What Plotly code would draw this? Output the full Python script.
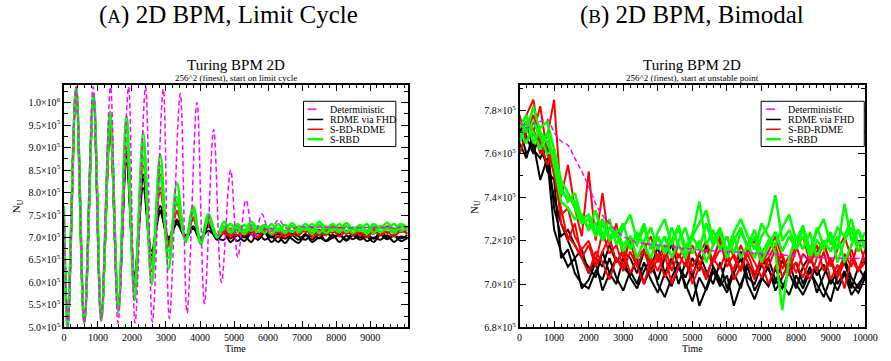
import plotly.graph_objects as go

W, H = 891, 361
SERIF = "Liberation Serif"

# ---------------- Panel A : limit cycle (values in units of 1e5) ----------------
A_T = [0, 110, 360, 600, 870, 1100, 1360, 1600, 1840, 2080, 2330, 2580, 2830, 3080, 3320, 3580, 3800, 4020, 4250, 4500,
       4700, 4900, 5100, 5300, 5500, 5700, 5900, 6100, 6300, 6500, 6700, 6900, 7100, 7300, 7500, 7700, 7900,
       8100, 8300, 8500, 8700, 8900, 9100, 9300, 9500, 9700, 9900, 10100]

A_BLACK = [
    [7.6, 5.05, 10.3, 5.1, 10.0, 5.2, 9.3, 5.5, 8.65, 6.1, 8.1, 6.6, 7.55, 6.95, 7.3, 7.0, 7.2, 6.95, 7.25, 6.95,
     7.1, 6.9, 7.05, 6.92, 7.08, 6.95, 7.1, 6.9, 7.02, 6.88, 7.05, 6.95, 7.08, 6.9, 7.0, 6.93, 7.06, 6.9, 7.04, 6.96,
     7.1, 6.92, 7.0, 6.95, 7.05, 6.9, 7.02, 6.97],
    [7.4, 5.1, 10.25, 5.15, 10.05, 5.25, 9.45, 5.4, 8.8, 5.95, 8.4, 6.4, 7.7, 6.85, 7.4, 6.95, 7.25, 6.9, 7.3, 7.0,
     6.95, 7.1, 6.92, 7.05, 6.9, 7.1, 6.95, 7.02, 6.9, 7.08, 6.97, 6.88, 7.05, 6.95, 7.1, 6.92, 7.0, 7.08, 6.93, 7.05,
     6.95, 7.02, 6.9, 7.06, 6.96, 7.04, 6.92, 7.0],
    [7.2, 5.0, 10.3, 5.12, 10.1, 5.2, 9.55, 5.5, 8.9, 6.2, 8.3, 6.7, 7.6, 7.0, 7.35, 7.05, 7.2, 7.0, 7.15, 7.02,
     7.12, 6.98, 7.15, 7.0, 7.1, 6.95, 7.12, 7.0, 7.08, 6.97, 7.1, 7.02, 6.95, 7.1, 6.98, 7.12, 7.0, 7.05, 6.95, 7.1,
     7.0, 7.08, 6.97, 7.12, 7.0, 7.05, 6.98, 7.06],
]
A_RED = [
    [7.5, 5.05, 10.3, 5.1, 10.15, 5.2, 9.6, 5.45, 9.45, 5.9, 9.1, 6.25, 8.4, 6.8, 7.75, 6.95, 7.6, 6.9, 7.5, 7.0,
     7.2, 7.05, 7.25, 7.1, 7.2, 7.02, 7.22, 7.08, 7.18, 7.05, 7.25, 7.1, 7.2, 7.05, 7.18, 7.08, 7.25, 7.1, 7.15, 7.05,
     7.22, 7.12, 7.2, 7.05, 7.25, 7.1, 7.18, 7.1],
    [7.3, 5.1, 10.25, 5.15, 10.05, 5.3, 9.5, 5.5, 9.2, 6.0, 8.8, 6.45, 8.1, 6.9, 7.6, 6.95, 7.45, 6.95, 7.4, 7.05,
     7.1, 7.2, 7.05, 7.18, 7.08, 7.25, 7.1, 7.2, 7.0, 7.15, 7.05, 7.2, 7.12, 7.22, 7.05, 7.18, 7.1, 7.22, 7.08, 7.2,
     7.05, 7.15, 7.08, 7.25, 7.1, 7.2, 7.12, 7.18],
    [7.6, 5.05, 10.3, 5.1, 10.1, 5.25, 9.4, 5.45, 9.0, 6.1, 8.6, 6.5, 8.0, 6.85, 7.55, 7.0, 7.4, 6.95, 7.35, 7.02,
     7.15, 7.0, 7.2, 7.05, 7.15, 7.0, 7.18, 7.05, 7.12, 7.0, 7.15, 7.05, 7.2, 7.0, 7.12, 7.05, 7.18, 7.02, 7.15, 7.05,
     7.12, 7.0, 7.15, 7.05, 7.12, 7.02, 7.15, 7.08],
]
A_GREEN = [
    [7.7, 5.05, 10.35, 5.1, 10.2, 5.15, 9.8, 5.35, 9.7, 5.6, 9.35, 5.95, 8.85, 6.3, 8.2, 6.9, 7.7, 6.85, 7.52, 7.0,
     7.35, 7.15, 7.3, 7.15, 7.35, 7.2, 7.28, 7.15, 7.3, 7.12, 7.32, 7.18, 7.3, 7.15, 7.35, 7.2, 7.3, 7.15, 7.32, 7.18,
     7.28, 7.15, 7.3, 7.2, 7.33, 7.15, 7.3, 7.2],
    [7.4, 5.0, 10.3, 5.15, 10.15, 5.2, 9.7, 5.4, 9.5, 5.7, 9.1, 6.1, 8.6, 6.55, 7.9, 6.95, 7.65, 6.9, 7.45, 7.05,
     7.2, 7.3, 7.12, 7.28, 7.15, 7.25, 7.1, 7.3, 7.15, 7.28, 7.12, 7.25, 7.18, 7.3, 7.1, 7.25, 7.15, 7.3, 7.12, 7.22,
     7.15, 7.3, 7.1, 7.25, 7.18, 7.3, 7.15, 7.25],
    [7.2, 5.1, 10.25, 5.15, 10.05, 5.25, 9.6, 5.5, 9.2, 6.0, 8.8, 6.4, 8.3, 6.7, 7.8, 6.95, 7.55, 6.95, 7.4, 7.0,
     7.25, 7.1, 7.22, 7.08, 7.28, 7.12, 7.25, 7.08, 7.2, 7.1, 7.25, 7.12, 7.22, 7.08, 7.28, 7.1, 7.2, 7.12, 7.25, 7.1,
     7.22, 7.08, 7.25, 7.12, 7.2, 7.1, 7.25, 7.15],
]
A_DET_T = [0, 120, 360, 600, 860, 1090, 1370, 1590, 1900, 2090, 2400, 2600, 2920, 3100, 3420, 3620, 3910, 4130,
           4400, 4630, 4900, 5110, 5350, 5590, 5820, 6050, 6300, 6550, 7000, 8000, 9000, 10100]
A_DET = [7.6, 5.05, 10.35, 5.1, 10.35, 5.15, 10.35, 5.1, 10.35, 5.1, 10.35, 5.12, 10.3, 5.2, 10.2, 5.32, 10.0, 5.53,
         9.4, 6.0, 8.5, 6.56, 7.83, 6.97, 7.52, 7.1, 7.39, 7.2, 7.24, 7.22, 7.22, 7.22]

A_XTICKS = [0, 1000, 2000, 3000, 4000, 5000, 6000, 7000, 8000, 9000]
A_XTEXT = ["0", "1000", "2000", "3000", "4000", "5000", "6000", "7000", "8000", "9000"]
A_YTICKS = [5.0e5, 5.5e5, 6.0e5, 6.5e5, 7.0e5, 7.5e5, 8.0e5, 8.5e5, 9.0e5, 9.5e5, 1.0e6]
A_YTEXT = ["5.0×10<sup>5</sup>", "5.5×10<sup>5</sup>", "6.0×10<sup>5</sup>", "6.5×10<sup>5</sup>",
           "7.0×10<sup>5</sup>", "7.5×10<sup>5</sup>", "8.0×10<sup>5</sup>", "8.5×10<sup>5</sup>",
           "9.0×10<sup>5</sup>", "9.5×10<sup>5</sup>", "1.0×10<sup>6</sup>"]

# ---------------- Panel B : bimodal (values in units of 1e3) ----------------
B_T = list(range(0, 10001, 200))
B_BLACK = [
    [775, 768, 760, 770, 752, 748, 712, 716, 705, 700, 698, 706, 702, 712, 703, 697, 706, 700, 710, 702,
     696, 705, 699, 708, 700, 692, 703, 697, 706, 699, 704, 690, 700, 708, 697, 703, 699, 707, 700, 695,
     704, 698, 706, 700, 694, 703, 697, 705, 695, 700, 704],
    [770, 775, 762, 758, 765, 735, 722, 725, 718, 712, 708, 703, 715, 705, 712, 708, 704, 712, 700, 708,
     717, 705, 712, 700, 710, 703, 714, 706, 700, 710, 698, 707, 715, 703, 700, 709, 712, 702, 698, 706,
     710, 700, 708, 696, 704, 712, 700, 706, 698, 708, 702],
    [765, 758, 770, 762, 755, 740, 728, 720, 712, 716, 705, 712, 708, 718, 710, 715, 712, 705, 715, 708,
     702, 712, 718, 708, 703, 712, 706, 718, 708, 700, 712, 705, 698, 710, 704, 712, 707, 700, 711, 705,
     698, 708, 713, 704, 709, 700, 706, 712, 703, 698, 706],
    [772, 760, 765, 748, 758, 725, 715, 708, 712, 698, 702, 710, 697, 705, 700, 712, 703, 698, 706, 712,
     700, 694, 703, 710, 698, 705, 690, 698, 708, 702, 696, 705, 712, 700, 693, 702, 708, 697, 703, 710,
     700, 695, 702, 708, 698, 692, 704, 710, 700, 696, 703],
]
B_RED = [
    [772, 778, 785, 765, 768, 785, 740, 755, 735, 722, 752, 720, 742, 718, 728, 712, 720, 708, 716, 705,
     712, 718, 706, 714, 708, 718, 710, 704, 712, 720, 708, 714, 706, 716, 710, 703, 712, 718, 707, 713,
     705, 714, 710, 718, 706, 712, 703, 710, 716, 706, 712],
    [760, 770, 778, 765, 755, 762, 728, 722, 718, 712, 705, 715, 710, 702, 712, 706, 715, 708, 700, 712,
     706, 714, 700, 708, 715, 705, 710, 702, 712, 707, 716, 702, 708, 714, 705, 710, 700, 708, 714, 704,
     710, 703, 712, 706, 715, 702, 709, 698, 712, 706, 710],
    [778, 765, 772, 760, 766, 750, 732, 735, 722, 716, 720, 710, 724, 714, 718, 708, 722, 712, 716, 722,
     710, 716, 720, 712, 718, 708, 714, 720, 710, 716, 722, 712, 706, 716, 720, 709, 715, 722, 712, 706,
     716, 722, 710, 715, 720, 708, 716, 722, 712, 706, 716],
    [768, 775, 770, 782, 760, 752, 735, 720, 728, 712, 718, 708, 715, 722, 710, 716, 705, 712, 720, 708,
     714, 703, 710, 718, 712, 700, 708, 716, 710, 722, 712, 706, 718, 710, 702, 714, 708, 716, 703, 710,
     718, 708, 702, 712, 718, 710, 704, 714, 708, 720, 710],
]
B_GREEN = [
    [775, 770, 782, 770, 765, 758, 742, 740, 738, 730, 732, 724, 730, 722, 725, 718, 722, 718, 726, 716,
     722, 714, 720, 727, 717, 723, 738, 718, 725, 716, 722, 714, 724, 718, 712, 722, 727, 741, 720, 725,
     717, 722, 714, 726, 718, 723, 716, 737, 720, 725, 718],
    [770, 765, 775, 768, 760, 762, 748, 742, 735, 728, 730, 722, 728, 720, 724, 715, 722, 712, 720, 726,
     716, 722, 712, 720, 726, 714, 720, 710, 718, 724, 715, 722, 712, 718, 725, 714, 720, 715, 688, 712,
     722, 716, 724, 712, 720, 715, 722, 710, 718, 725, 716],
    [765, 775, 770, 762, 770, 755, 738, 735, 730, 732, 725, 728, 720, 726, 722, 728, 716, 724, 718, 712,
     722, 715, 726, 718, 712, 722, 716, 728, 718, 724, 712, 720, 726, 716, 722, 710, 718, 724, 715, 722,
     716, 726, 712, 720, 716, 724, 710, 720, 726, 715, 720],
    [772, 778, 765, 772, 775, 762, 745, 738, 742, 730, 726, 734, 722, 730, 718, 726, 732, 720, 728, 716,
     724, 730, 718, 726, 714, 722, 728, 734, 720, 726, 715, 724, 730, 722, 716, 728, 722, 718, 726, 732,
     720, 727, 716, 724, 730, 718, 726, 722, 730, 718, 724],
]
B_DET_T = [0, 200, 400, 600, 800, 1000, 1200, 1400, 1600, 1800, 2000, 2300, 2600, 3000, 3500, 4000, 5000, 6000,
           7000, 8000, 9000, 10000]
B_DET = [775, 772, 774, 775, 776, 770, 766, 764, 758, 752, 745, 734, 728, 722, 719, 718, 716, 715, 714, 713, 712, 712]

B_XTICKS = [0, 1000, 2000, 3000, 4000, 5000, 6000, 7000, 8000, 9000, 10000]
B_XTEXT = ["0", "1000", "2000", "3000", "4000", "5000", "6000", "7000", "8000", "9000", "10000"]
B_YTICKS = [6.8e5, 7.0e5, 7.2e5, 7.4e5, 7.6e5, 7.8e5]
B_YTEXT = ["6.8×10<sup>5</sup>", "7.0×10<sup>5</sup>", "7.2×10<sup>5</sup>", "7.4×10<sup>5</sup>",
           "7.6×10<sup>5</sup>", "7.8×10<sup>5</sup>"]

LEGEND_NAMES = ["Deterministic", "RDME via FHD", "S-BD-RDME", "S-RBD"]
COL = {"det": "#ff00ff", "black": "#000000", "red": "#ff0000", "green": "#00ff00"}

fig = go.Figure()


def add(xs, ys, scale, color, width, xa, ya, dash=None, shape="spline"):
    fig.add_trace(go.Scatter(
        x=xs, y=[v * scale for v in ys], mode="lines", xaxis=xa, yaxis=ya,
        line=dict(color=color, width=width, shape=shape, dash=dash),
        showlegend=False, hoverinfo="skip"))


for s in A_BLACK:
    add(A_T, s, 1e5, COL["black"], 2, "x", "y")
for s in A_RED:
    add(A_T, s, 1e5, COL["red"], 2, "x", "y")
for s in A_GREEN:
    add(A_T, s, 1e5, COL["green"], 2.5, "x", "y")
add(A_DET_T, A_DET, 1e5, COL["det"], 1.5, "x", "y", dash="5px,3px")

for s in B_BLACK:
    add(B_T, s, 1e3, COL["black"], 2, "x2", "y2", shape="linear")
for s in B_RED:
    add(B_T, s, 1e3, COL["red"], 2, "x2", "y2", shape="linear")
for s in B_GREEN:
    add(B_T, s, 1e3, COL["green"], 2.5, "x2", "y2", shape="linear")
add(B_DET_T, B_DET, 1e3, COL["det"], 1.5, "x2", "y2", dash="5px,3px")


def px(x):
    return x / W


def py(y):
    return 1 - y / H


TF = dict(family=SERIF, size=10, color="black")
ax = dict(showline=True, linecolor="black", linewidth=1.5, mirror="allticks", ticks="inside", ticklen=7,
          tickwidth=1, tickcolor="black", showgrid=False, zeroline=False, tickmode="array", tickfont=TF)
MINOR = dict(ticks="inside", ticklen=4, tickcolor="black", tick0=0)
YDOM = [py(333), py(86)]

fig.update_layout(
    width=W, height=H, margin=dict(l=0, r=0, t=0, b=0),
    paper_bgcolor="white", plot_bgcolor="white", showlegend=False,
    font=dict(family=SERIF, color="black"),
    xaxis=dict(ax, domain=[px(62), px(412)], range=[0, 10100], tickvals=A_XTICKS, ticktext=A_XTEXT,
               anchor="y", minor=dict(MINOR, dtick=200)),
    yaxis=dict(ax, domain=YDOM, range=[5.0e5, 1.04e6], tickvals=A_YTICKS, ticktext=A_YTEXT,
               anchor="x", minor=dict(MINOR, dtick=25000)),
    xaxis2=dict(ax, domain=[px(526), px(878)], range=[0, 10000], tickvals=B_XTICKS, ticktext=B_XTEXT,
                anchor="y2", minor=dict(MINOR, dtick=200)),
    yaxis2=dict(ax, domain=YDOM, range=[6.8e5, 7.92e5], tickvals=B_YTICKS, ticktext=B_YTEXT,
                anchor="x2", minor=dict(MINOR, dtick=10000)),
)

ann = []


def text(x, y, s, size, angle=0, xanchor="center"):
    ann.append(dict(x=px(x), y=py(y), xref="paper", yref="paper", text=s, showarrow=False, textangle=angle,
                    xanchor=xanchor, yanchor="middle", font=dict(family=SERIF, size=size, color="black")))


text(230, 15, "(<span style='font-size:19px'>A</span>) 2D BPM, Limit Cycle", 25)
text(702, 15, "(<span style='font-size:19px'>B</span>) 2D BPM, Bimodal", 25)
for cx, sub in [(237, "256^2 (finest), start on limit cycle"), (702, "256^2 (finest), start at unstable point")]:
    text(cx, 66, "Turing BPM 2D", 15)
    text(cx, 79, sub, 9)
    text(cx, 354, "Time", 10)
text(14, 210, "N<sub>U</sub>", 11, angle=-90)
text(480, 210, "N<sub>U</sub>", 11, angle=-90)

shapes = []
LEG_STYLE = [(COL["det"], 1.5, "dash"), (COL["black"], 1.5, "solid"), (COL["red"], 1.5, "solid"),
             (COL["green"], 2.5, "solid")]
ROWS = [111, 121.5, 131.5, 141.5]
for (bx0, bx1, sx0, sx1, tx) in [(306, 400, 310, 326, 331), (772, 877, 777, 792, 797)]:
    shapes.append(dict(type="rect", xref="paper", yref="paper", x0=px(bx0), x1=px(bx1), y0=py(149), y1=py(103),
                       line=dict(color="black", width=1), fillcolor="white", layer="above"))
    for (c, w, d), ry, name in zip(LEG_STYLE, ROWS, LEGEND_NAMES):
        shapes.append(dict(type="line", xref="paper", yref="paper", x0=px(sx0), x1=px(sx1), y0=py(ry), y1=py(ry),
                           line=dict(color=c, width=w, dash=d), layer="above"))
        text(tx, ry, name, 10, xanchor="left")

fig.update_layout(annotations=ann, shapes=shapes)
fig.write_html("out.html")
